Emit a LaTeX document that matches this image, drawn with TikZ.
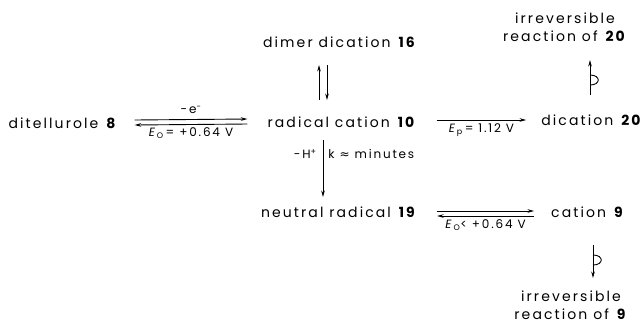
\documentclass[tikz,border=0pt]{standalone}
\usepackage{fontspec}
\setmainfont{Poppins}[LetterSpace=15]
\newfontfamily\symfont{DejaVu Sans}
\usetikzlibrary{arrows.meta,calc}
\begin{document}
\begin{tikzpicture}[x=1pt,y=-1pt,
  every node/.style={inner sep=0pt, font=\fontsize{14}{18}\selectfont},
  chem/.style={anchor=base},
  lbl/.style={font=\fontsize{12}{14}\selectfont},
  ln/.style={line width=0.9pt},
  arr/.style={line width=0.9pt, -{Stealth[length=6.5pt,width=3.6pt]}}]
\useasboundingbox[fill=white] (0,0) rectangle (644,325);
% species
\node[chem] (d8)   at (63,128)  {ditellurole \textbf{8}};
\node[chem] (r10)  at (342,127) {radical cation \textbf{10}};
\node[chem] (dd16) at (340,47)  {dimer dication \textbf{16}};
\node[chem] (dc20) at (592,125) {dication \textbf{20}};
\node[chem] (nr19) at (339,217) {neutral radical \textbf{19}};
\node[chem] (c9)   at (588,217) {cation \textbf{9}};
\node[align=center, anchor=south] (irr20) at (565,42)  {irreversible\\reaction of \textbf{20}};
\node[align=center, anchor=south] (irr9)  at (571,320) {irreversible\\reaction of \textbf{9}};
% ditellurole <=> radical cation
\draw[arr] ($(d8.base east)+(17,-8)$) -- ($(r10.base west)+(-20,-8)$)
  node[midway, above=5pt, lbl] (lab1) {-\,e\textsuperscript{-}};
\draw[arr] ($(r10.base west)+(-20,-3)$) -- ($(d8.base east)+(17,-3)$)
  node[midway, below=3pt, lbl] (lab2) {\textit{E}\textsubscript{O}\,= +0.64 V};
% dimer dication <=> radical cation
\draw[arr] ($(r10.base)+(-23,-27)$) -- ($(dd16.base)+(-21,18)$);
\draw[arr] ($(dd16.base)+(-13,18)$) -- ($(r10.base)+(-15,-27)$);
% radical cation -> neutral radical
\draw[arr] ($(r10.base)+(-19,13)$) -- ($(nr19.base)+(-16,-20)$)
  node[pos=0.25, left=6pt, lbl] (lab3) {-H\textsuperscript{+}}
  node[pos=0.25, right=5pt, lbl] (lab4) {k {\symfont ≈} minutes};
% radical cation -> dication
\draw[arr] ($(r10.base east)+(20,-7)$) -- ($(dc20.base west)+(-15,-5)$)
  node[midway, below=3pt, lbl] (lab5) {\textit{E}\textsubscript{p}\,= 1.12 V};
% neutral radical <=> cation
\draw[arr] ($(nr19.base east)+(20,-6)$) -- ($(c9.base west)+(-17,-6)$);
\draw[arr] ($(c9.base west)+(-17,-1)$) -- ($(nr19.base east)+(20,-1)$)
  node[midway, below=3pt, lbl] (lab6) {\textit{E}\textsubscript{O}< +0.64 V};
% irreversible reactions
\draw[arr] ($(dc20.base)+(-2,-30)$) -- ($(dc20.base)+(-2,-65)$);
\draw[ln] ($(dc20.base)+(-2,-50)$) .. controls ($(dc20.base)+(9,-50)$) and ($(dc20.base)+(9,-40)$) .. ($(dc20.base)+(-2,-40)$);
\draw[arr] ($(c9.base)+(5,28)$) -- ($(c9.base)+(5,61)$);
\draw[ln] ($(c9.base)+(5,38)$) .. controls ($(c9.base)+(16,38)$) and ($(c9.base)+(16,48)$) .. ($(c9.base)+(5,48)$);
\end{tikzpicture}
\end{document}
